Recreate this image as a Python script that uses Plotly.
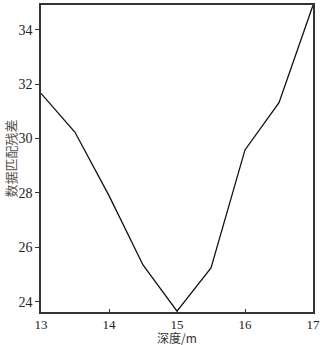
import plotly.graph_objects as go

depth = [13, 13.5, 14, 14.5, 15, 15.5, 16, 16.5, 17]
residual = [31.66, 30.23, 27.9, 25.35, 23.65, 25.24, 29.58, 31.32, 34.9]
x_ticks = [13, 14, 15, 16, 17]
y_ticks = [24, 26, 28, 30, 32, 34]
x_title = "深度/m"
y_title = "数据匹配残差"

fig = go.Figure()
fig.add_trace(go.Scatter(x=depth, y=residual, mode="lines",
                         line=dict(color="#111111", width=1.3)))

font = "'Liberation Serif', 'DejaVu Serif', serif"
cjk = "'Noto Sans CJK SC'"
fig.update_layout(
    width=324, height=345,
    margin=dict(l=41, r=11, t=5, b=33),
    paper_bgcolor="white", plot_bgcolor="white",
    showlegend=False,
    font=dict(family=font, size=14, color="#222222"),
)
fig.update_xaxes(range=[13, 17], tickvals=x_ticks, ticks="inside", ticklen=3,
                 tickcolor="#333333", showline=True, linecolor="#333333", linewidth=1.5,
                 mirror=True, showgrid=False, zeroline=False, automargin=False,
                 tickfont=dict(family=font, size=13))
fig.update_yaxes(range=[23.62, 34.91], tickvals=y_ticks, ticks="outside", ticklen=4,
                 tickcolor="#333333", showline=True, linecolor="#333333", linewidth=1.5,
                 mirror=True, showgrid=False, zeroline=False, automargin=False,
                 tickfont=dict(family=font, size=14))
fig.add_annotation(text=x_title, xref="paper", yref="paper", x=0.5, y=0,
                   xanchor="center", yanchor="middle", yshift=-25, showarrow=False,
                   borderpad=0, font=dict(family=cjk, size=12, color="#333333"))
fig.add_annotation(text=y_title, xref="paper", yref="paper", x=0, y=0.5,
                   xanchor="center", yanchor="middle", xshift=-31, textangle=-90,
                   showarrow=False, font=dict(family=cjk, size=13, color="#555555"))

fig.write_html("out.html", config={"displayModeBar": False},
               post_script="document.body.style.margin='0';document.body.style.overflow='hidden';")
